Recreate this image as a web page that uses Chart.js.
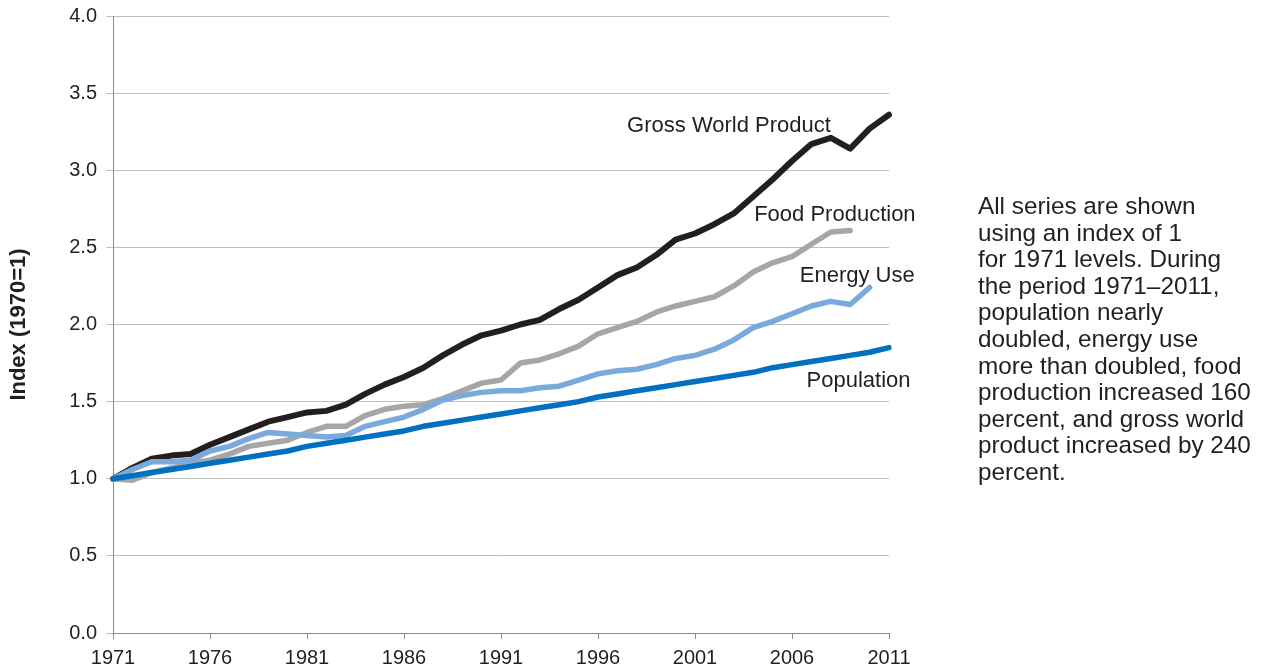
<!DOCTYPE html>
<html>
<head>
<meta charset="utf-8">
<title>Index (1970=1)</title>
<script src="https://cdn.jsdelivr.net/npm/chart.js@4/dist/chart.umd.min.js"></script>
<style>
    body { margin: 0; background: #fff; }
    #wrap { position: relative; width: 1265px; height: 669px; }
    #note {
        position: absolute;
        left: 978px;
        top: 193px;
        font-family: "Liberation Sans", Arial, sans-serif;
        font-size: 24.3px;
        line-height: 26.6px;
        color: #231f20;
        white-space: nowrap;
    }
</style>
</head>
<body>
<div id="wrap">
    <canvas id="chart" width="1265" height="669"></canvas>
    <div id="note">
        All series are shown<br>
        using an index of 1<br>
        for 1971 levels. During<br>
        the period 1971–2011,<br>
        population nearly<br>
        doubled, energy use<br>
        more than doubled, food<br>
        production increased 160<br>
        percent, and gross world<br>
        product increased by 240<br>
        percent.
    </div>
</div>
<script>
const years = ['1971', '1972', '1973', '1974', '1975', '1976', '1977', '1978', '1979', '1980',
    '1981', '1982', '1983', '1984', '1985', '1986', '1987', '1988', '1989', '1990',
    '1991', '1992', '1993', '1994', '1995', '1996', '1997', '1998', '1999', '2000',
    '2001', '2002', '2003', '2004', '2005', '2006', '2007', '2008', '2009', '2010', '2011'];

const grossWorldProduct = [1.00, 1.07, 1.13, 1.15, 1.16, 1.22, 1.27, 1.32, 1.37, 1.40,
    1.43, 1.44, 1.48, 1.55, 1.61, 1.66, 1.72, 1.80, 1.87, 1.93,
    1.96, 2.00, 2.03, 2.10, 2.16, 2.24, 2.32, 2.37, 2.45, 2.55,
    2.59, 2.65, 2.72, 2.83, 2.94, 3.06, 3.17, 3.21, 3.14, 3.27, 3.36];

const foodProduction = [1.00, 0.99, 1.04, 1.07, 1.10, 1.12, 1.16, 1.21, 1.23, 1.25,
    1.30, 1.34, 1.34, 1.41, 1.45, 1.47, 1.48, 1.52, 1.57, 1.62,
    1.64, 1.75, 1.77, 1.81, 1.86, 1.94, 1.98, 2.02, 2.08, 2.12,
    2.15, 2.18, 2.25, 2.34, 2.40, 2.44, 2.52, 2.60, 2.61, null, null];

const energyUse = [1.00, 1.06, 1.11, 1.11, 1.12, 1.18, 1.21, 1.26, 1.30, 1.29,
    1.28, 1.27, 1.28, 1.34, 1.37, 1.40, 1.45, 1.51, 1.54, 1.56,
    1.57, 1.57, 1.59, 1.60, 1.64, 1.68, 1.70, 1.71, 1.74, 1.78,
    1.80, 1.84, 1.90, 1.98, 2.02, 2.07, 2.12, 2.15, 2.13, 2.24, null];

const population = [1.00, 1.02, 1.04, 1.06, 1.08, 1.10, 1.12, 1.14, 1.16, 1.18,
    1.21, 1.23, 1.25, 1.27, 1.29, 1.31, 1.34, 1.36, 1.38, 1.40,
    1.42, 1.44, 1.46, 1.48, 1.50, 1.53, 1.55, 1.57, 1.59, 1.61,
    1.63, 1.65, 1.67, 1.69, 1.72, 1.74, 1.76, 1.78, 1.80, 1.82, 1.85];

const seriesNames = ['Population', 'Energy Use', 'Food Production', 'Gross World Product'];

const textColor = '#231f20';
const gridColor = '#bfbfbf';
const axisColor = '#8c8c8c';

Chart.defaults.font.family = '"Liberation Sans", Arial, sans-serif';
Chart.defaults.color = textColor;

// series names written next to the lines (left edge in category index, baseline in index value)
const lineLabels = [
    { text: seriesNames[3], at: 26.5, value: 3.25 },
    { text: seriesNames[2], at: 33.05, value: 2.67 },
    { text: seriesNames[1], at: 35.4, value: 2.275 },
    { text: seriesNames[0], at: 35.75, value: 1.595 }
];

const labelPlugin = {
    id: 'lineLabels',
    afterDatasetsDraw(chart) {
        const ctx = chart.ctx;
        const x = chart.scales.x;
        const y = chart.scales.y;
        ctx.save();
        ctx.font = '22px "Liberation Sans", Arial, sans-serif';
        ctx.fillStyle = textColor;
        ctx.textAlign = 'left';
        ctx.textBaseline = 'alphabetic';
        lineLabels.forEach(l => {
            ctx.fillText(l.text, x.getPixelForValue(l.at), y.getPixelForValue(l.value));
        });
        ctx.restore();
    }
};

function line(label, data, color, width) {
    return {
        label: label,
        data: data,
        borderColor: color,
        backgroundColor: color,
        borderWidth: width,
        pointRadius: 0,
        tension: 0,
        borderJoinStyle: 'round',
        borderCapStyle: 'round',
        spanGaps: false
    };
}

new Chart(document.getElementById('chart'), {
    type: 'line',
    data: {
        labels: years,
        // first dataset is drawn on top
        datasets: [
            line(seriesNames[0], population, '#0070c0', 5.5),
            line(seriesNames[1], energyUse, '#7aaadc', 5.5),
            line(seriesNames[2], foodProduction, '#a6a6a6', 5.5),
            line(seriesNames[3], grossWorldProduct, '#231f20', 6)
        ]
    },
    options: {
        responsive: false,
        animation: false,
        layout: { padding: { top: 16, right: 376, bottom: 0, left: 0 } },
        plugins: {
            legend: { display: false },
            tooltip: { enabled: false }
        },
        scales: {
            x: {
                offset: false,
                border: { color: axisColor, width: 1 },
                grid: {
                    drawOnChartArea: false,
                    drawTicks: true,
                    tickLength: 6,
                    color: c => (c.index % 5 === 0 ? axisColor : 'rgba(0,0,0,0)')
                },
                ticks: {
                    autoSkip: false,
                    maxRotation: 0,
                    padding: 7,
                    font: { size: 20 },
                    color: textColor,
                    callback: (v, i) => (i % 5 === 0 ? years[i] : '')
                },
                afterFit(scale) {
                    scale.height = 36;
                }
            },
            y: {
                min: 0,
                max: 4,
                border: { color: axisColor, width: 1 },
                grid: { color: gridColor, tickLength: 7 },
                ticks: {
                    stepSize: 0.5,
                    padding: 9,
                    font: { size: 20 },
                    color: textColor,
                    callback: v => v.toFixed(1)
                },
                title: {
                    display: true,
                    text: 'Index (1970=1)',
                    color: textColor,
                    font: { size: 22, weight: 'bold' },
                    padding: { top: 6, bottom: 0 }
                },
                afterFit(scale) {
                    scale.width = 113;
                    scale.paddingTop = 0;
                    scale.paddingBottom = 0;
                }
            }
        }
    },
    plugins: [labelPlugin]
});
</script>
</body>
</html>
